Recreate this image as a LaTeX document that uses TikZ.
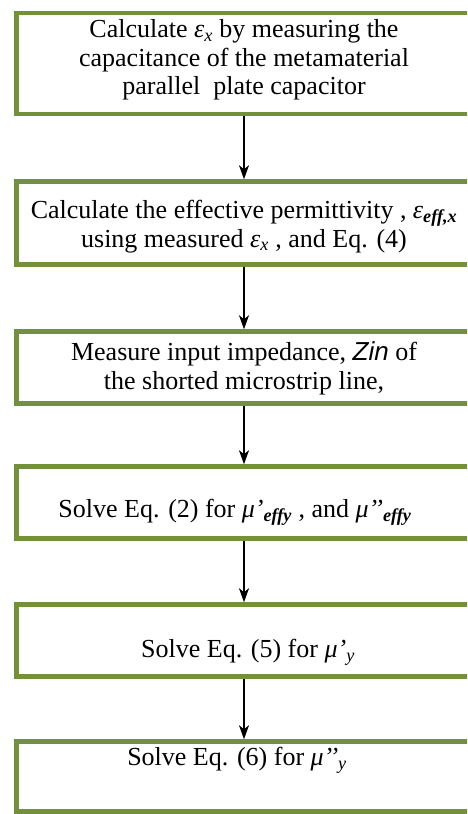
\documentclass[tikz,border=0pt]{standalone}
\usepackage{fontspec}
\setmainfont{Liberation Serif}
\setsansfont{Liberation Sans}
\usetikzlibrary{arrows.meta}
\definecolor{boxgreen}{HTML}{73903A}
\newcommand{\subit}[1]{\textsubscript{\itshape #1}}
\newcommand{\subbf}[1]{\textsubscript{\bfseries\itshape #1}}
\begin{document}
\begin{tikzpicture}[x=1pt,y=-1pt,
  stepbox/.style={draw=boxgreen, line width=4.5pt, fill=white, minimum width=455pt, inner sep=0pt},
  txt/.style={align=center, font=\fontsize{26}{28.5}\selectfont, inner sep=0pt},
  flow/.style={draw=black, line width=1.8pt, -{Stealth[length=14pt,width=10pt,inset=4pt]}}]
\useasboundingbox (0,0) rectangle (467,814);
\clip (0,0) rectangle (467,814);
\node[stepbox, minimum height=101pt] (b1) at (244,63.5) {};
\node[stepbox, minimum height=83pt] (b2) at (244,223) {};
\node[stepbox, minimum height=72pt] (b3) at (244,367.5) {};
\node[stepbox, minimum height=72pt] (b4) at (244,502.5) {};
\node[stepbox, minimum height=72pt] (b5) at (244,640.5) {};
\node[stepbox, minimum height=70pt] (b6) at (244,776.5) {};
\node[txt] (t1) at (244,60) {Calculate {\itshape ε}\subit{x} by measuring the\\capacitance of the metamaterial\\parallel\ \ plate capacitor};
\node[txt] (t2) at (244,226.5) {Calculate the effective permittivity , {\itshape ε}\subbf{eff,x}\\using measured {\itshape ε}\subit{x} , and Eq. (4)};
\node[txt] (t3) at (244,368.5) {Measure input impedance, {\sffamily\itshape Zin} of\\the shorted microstrip line,};
\node[txt] (t4) at (235,512) {Solve Eq. (2) for {\itshape μ’}\subbf{effy} , and {\itshape μ’’}\subbf{effy}};
\node[txt] (t5) at (248,652) {Solve Eq. (5) for {\itshape μ’}\subit{y}};
\node[txt] (t6) at (237,760) {Solve Eq. (6) for {\itshape μ’’}\subit{y}};
\draw[flow] (b1) -- (b2);
\draw[flow] (b2) -- (b3);
\draw[flow] (b3) -- (b4);
\draw[flow] (b4) -- (b5);
\draw[flow] (b5) -- (b6);
\end{tikzpicture}
\end{document}
